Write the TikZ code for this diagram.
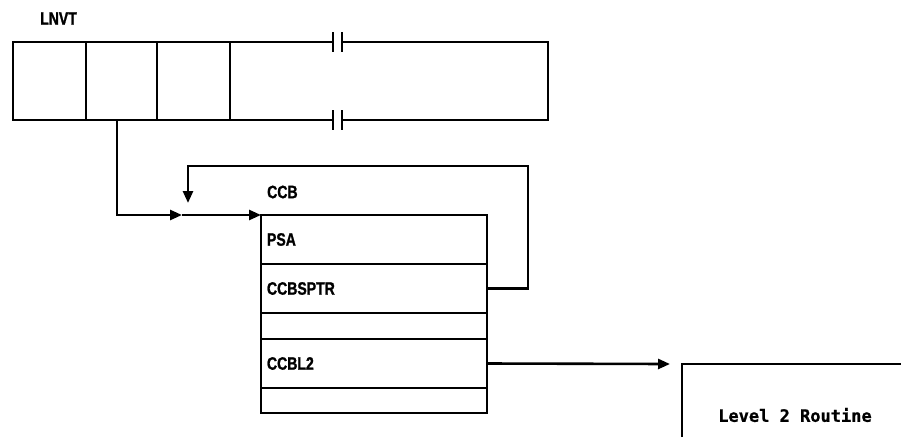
\documentclass[tikz,border=0pt]{standalone}
\usepackage{fontspec}
\newfontfamily\labfont{Liberation Sans Bold}[FakeStretch=0.78,FakeBold=1.2]
\newfontfamily\monofont{DejaVu Sans Mono Bold}[FakeBold=1]
\usetikzlibrary{arrows.meta,calc}
\begin{document}
\begin{tikzpicture}[x=1pt,y=-1pt,
  ln/.style={line width=2.6pt},
  arr/.style={ln,-{Triangle[length=12pt,width=10pt]}},
  lbl/.style={font=\labfont\fontsize{18}{20}\selectfont,inner sep=0pt,anchor=west},
  cell/.style={ln,draw,rectangle,inner sep=0pt,outer sep=0pt,anchor=north west,minimum width=#1},
  row/.style={ln,draw,rectangle,inner ysep=0pt,inner xsep=6pt,outer sep=0pt,anchor=north west,
     minimum width=226pt,text width=214pt,align=left,minimum height=#1,
     font=\labfont\fontsize{18}{20}\selectfont},
]
\useasboundingbox (0,0) rectangle (901,437);
% LNVT
\node[lbl] (lnvt) at (40,18.5) {LNVT};
\node[cell=73pt,minimum height=78pt] (c1) at (13,42) {};
\node[cell=71pt,minimum height=78pt] (c2) at (86,42) {};
\node[cell=73pt,minimum height=78pt] (c3) at (157,42) {};
\coordinate (tr) at (548,42);
\coordinate (br) at (548,120);
\draw[ln] (c3.north east) -- (333,42);
\draw[ln] (342,42) -- (tr) -- (br) -- (342,120);
\draw[ln] (333,120) -- (c3.south east);
\draw[ln] (333,32) -- (333,52) (342,32) -- (342,52);
\draw[ln] (333,110) -- (333,130) (342,110) -- (342,130);
% CCB
\node[lbl] (ccb) at (267,192) {CCB};
\node[row=49pt] (psa) at (261,215) {PSA};
\node[row=49pt] (sptr) at (261,264) {CCBSPTR};
\node[row=26pt] (e1) at (261,313) {};
\node[row=49pt] (l2) at (261,339) {CCBL2};
\node[row=25pt] (e2) at (261,388) {};
% connectors
\coordinate (m1) at (182,215);
\draw[arr] ([xshift=-4.5pt]c2.south) |- (m1);
\draw[arr] (m1) -- (psa.north west);
\coordinate (lp) at (188,203);
\draw[arr] (sptr.east) -- ++(41,0) |- (lp |- 0,166) -- (lp);
% Level 2
\coordinate (lvtop) at (682,364);
\coordinate (ar) at (670,364);
\draw[arr] (l2.east) -- (ar);
\draw[ln] (682,437) -- (lvtop) -- (901,364);
\node[inner sep=0pt,anchor=west,font=\monofont\fontsize{17}{20}\selectfont] (lev) at (718,415) {Level 2 Routine};
\end{tikzpicture}
\end{document}
